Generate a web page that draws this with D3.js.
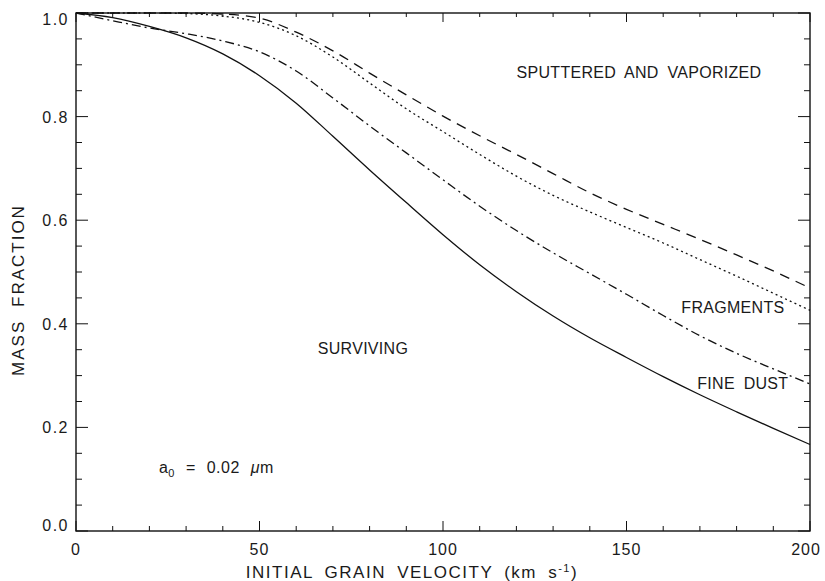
<!DOCTYPE html>
<meta charset="utf-8">
<style>
body { margin: 0; background: #fff; }
svg text { font-family: "Liberation Sans", Arial, sans-serif; fill: #1a1a1a; }
.curve { fill: none; stroke: #111; stroke-width: 1.3px; }
.frame line, .frame rect { stroke: #111; }
</style>
<svg width="825" height="581"></svg>
<script src="https://cdn.jsdelivr.net/npm/d3@7"></script>
<script>

// initial grain velocity (km/s)
var velocity = [0, 10, 20, 30, 40, 50, 60, 70, 80, 90, 100, 110, 120, 130, 140, 150, 160, 170, 180, 190, 200];

// mass fractions
var surviving = [1.0, 0.991, 0.974, 0.952, 0.921, 0.879, 0.826, 0.762, 0.697, 0.634, 0.572, 0.514, 0.462, 0.415, 0.373, 0.335, 0.298, 0.263, 0.23, 0.198, 0.167];
var fineDust  = [1.0, 0.985, 0.971, 0.96, 0.946, 0.925, 0.888, 0.836, 0.782, 0.73, 0.678, 0.627, 0.58, 0.537, 0.497, 0.457, 0.416, 0.377, 0.343, 0.313, 0.284];
var fragments = [1.0, 1.0, 1.0, 0.999, 0.994, 0.982, 0.956, 0.915, 0.865, 0.815, 0.771, 0.727, 0.685, 0.648, 0.616, 0.586, 0.556, 0.524, 0.492, 0.459, 0.426];
var sputtered = [1.0, 1.0, 1.0, 1.0, 0.998, 0.99, 0.963, 0.927, 0.884, 0.842, 0.801, 0.763, 0.727, 0.69, 0.653, 0.621, 0.592, 0.563, 0.533, 0.502, 0.469];

var xTicks = [0, 50, 100, 150, 200];
var yTicks = [0.0, 0.2, 0.4, 0.6, 0.8, 1.0];

var svg = d3.select("svg");
var margin = {left: 76, right: 15, top: 13, bottom: 50};
var width = 825 - margin.left - margin.right,
    height = 581 - margin.top - margin.bottom;

var g = svg.append("g").attr("transform", "translate(" + margin.left + "," + margin.top + ")");

var x = d3.scaleLinear().domain([0, 200]).range([0, width]);
var y = d3.scaleLinear().domain([0, 1]).range([height, 0]);

// frame with ticks on all four sides (pointing inward)
var frame = g.append("g").attr("class", "frame");
frame.append("rect").attr("width", width).attr("height", height)
    .attr("fill", "none").attr("stroke-width", 1.4);

var xMinor = d3.range(0, 201, 10);
var yMinor = d3.range(0, 1.0001, 0.05);

function isMajorX(v) { return v % 50 === 0; }
function isMajorY(v) { return Math.abs(v * 5 - Math.round(v * 5)) < 1e-6; }

// bottom + top ticks
frame.selectAll(".xb").data(xMinor).enter().append("line")
    .attr("x1", function(d) { return x(d); }).attr("x2", function(d) { return x(d); })
    .attr("y1", height).attr("y2", function(d) { return height - (isMajorX(d) ? 10 : 5); });
frame.selectAll(".xt").data(xMinor).enter().append("line")
    .attr("x1", function(d) { return x(d); }).attr("x2", function(d) { return x(d); })
    .attr("y1", 0).attr("y2", function(d) { return isMajorX(d) ? 9 : 4; });

// left + right ticks
frame.selectAll(".yl").data(yMinor).enter().append("line")
    .attr("y1", function(d) { return y(d); }).attr("y2", function(d) { return y(d); })
    .attr("x1", 0).attr("x2", function(d) { return isMajorY(d) ? 12 : 6; });
frame.selectAll(".yr").data(yMinor).enter().append("line")
    .attr("y1", function(d) { return y(d); }).attr("y2", function(d) { return y(d); })
    .attr("x1", width).attr("x2", function(d) { return width - (isMajorY(d) ? 12 : 6); });

// tick labels
g.selectAll(".xl").data(xTicks).enter().append("text")
    .attr("x", function(d) { return x(d) - (d === 200 ? 4 : 0); }).attr("y", height + 24)
    .attr("text-anchor", "middle").attr("font-size", 16).attr("letter-spacing", 1)
    .text(function(d) { return d; });
g.selectAll(".ylab").data(yTicks).enter().append("text")
    .attr("x", -7).attr("y", function(d) { return y(d) + 6 + (d === 1 ? 6 : d === 0 ? -6 : 0); })
    .attr("text-anchor", "end").attr("font-size", 16).attr("letter-spacing", 1.5)
    .text(function(d) { return d.toFixed(1); });

// axis titles
var xt = svg.append("text")
    .attr("x", 412).attr("y", 578)
    .attr("text-anchor", "middle").attr("font-size", 17)
    .attr("letter-spacing", 1.5).attr("word-spacing", 5);
xt.append("tspan").text("INITIAL GRAIN VELOCITY (km s");
xt.append("tspan").attr("dy", -6).attr("font-size", 11).text("-1");
xt.append("tspan").attr("dy", 6).text(")");

svg.append("text")
    .attr("transform", "translate(24,290) rotate(-90)")
    .attr("text-anchor", "middle").attr("font-size", 17)
    .attr("letter-spacing", 2).attr("word-spacing", 6)
    .text("MASS FRACTION");

// curves
var series = [
  {values: surviving, dash: null},
  {values: fineDust, dash: "9,4,2,4"},
  {values: fragments, dash: "2,3.2"},
  {values: sputtered, dash: "10,7"}
];

var line = d3.line()
    .x(function(d, i) { return x(velocity[i]); })
    .y(function(d) { return y(d); })
    .curve(d3.curveMonotoneX);

g.selectAll(".curve").data(series).enter().append("path")
    .attr("class", "curve")
    .attr("stroke-dasharray", function(d) { return d.dash; })
    .attr("d", function(d) { return line(d.values); });

// region labels
var labels = [
  {text: "SPUTTERED AND VAPORIZED", v: 153.4, f: 0.875},
  {text: "FRAGMENTS", v: 179, f: 0.421},
  {text: "FINE DUST", v: 181.7, f: 0.274},
  {text: "SURVIVING", v: 78.2, f: 0.342}
];
g.selectAll(".region").data(labels).enter().append("text")
    .attr("x", function(d) { return x(d.v); })
    .attr("y", function(d) { return y(d.f); })
    .attr("text-anchor", "middle").attr("font-size", 16)
    .attr("word-spacing", 4).attr("letter-spacing", 0.3)
    .text(function(d) { return d.text; });

// grain size note
var note = g.append("text").attr("x", x(22.6)).attr("y", y(0.112))
    .attr("font-size", 16).attr("word-spacing", 6).attr("letter-spacing", 0.5);
note.append("tspan").text("a");
note.append("tspan").attr("dy", 4).attr("font-size", 11).text("0");
note.append("tspan").attr("dy", -4).text(" = 0.02 ");
note.append("tspan").attr("font-style", "italic").text("\u03bc");
note.append("tspan").text("m");

</script>
